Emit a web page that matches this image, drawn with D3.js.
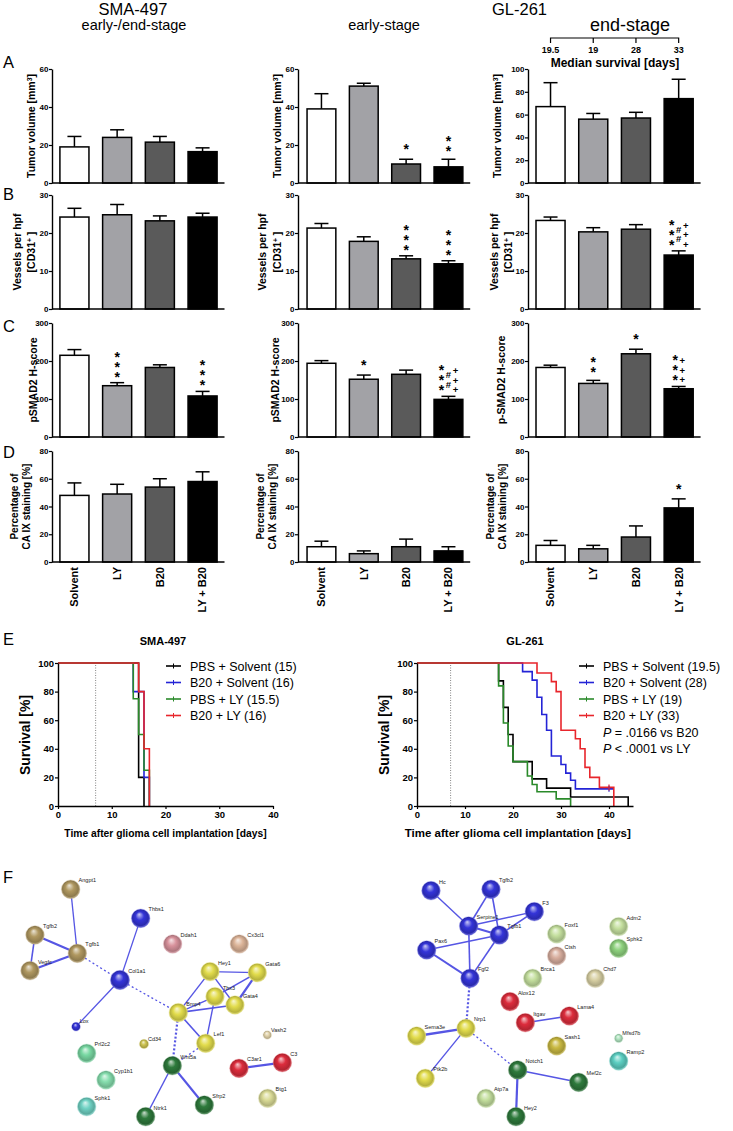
<!DOCTYPE html>
<html>
<head>
<meta charset="utf-8">
<script src="https://cdn.jsdelivr.net/npm/d3@7"></script>
<style>
body { margin: 0; background: #fff; }
svg text { font-family: "Liberation Sans", Arial, sans-serif; }
</style>
</head>
<body>
<svg id="fig" width="733" height="1131"></svg>
<script>
// ---- data ----
const groups = ["Solvent", "LY", "B20", "LY + B20"];
const barFills = ["#ffffff", "#a2a2a6", "#5a5a5a", "#000000"];
const medianSurvival = [19.5, 19, 28, 33];

// A: tumor volume
const smaTumor = [19, 24, 21.5, 16.5], smaTumorErr = [5.5, 4, 3, 2];
const earlyTumor = [39, 51, 10, 8.5], earlyTumorErr = [8, 1.5, 2.5, 4];
const endTumor = [67, 56, 57, 74], endTumorErr = [21, 5, 5, 17];
// B: vessels per hpf
const smaVessels = [24.2, 24.8, 23.2, 24.2], smaVesselsErr = [2.3, 2.7, 1.3, 1];
const earlyVessels = [21.3, 17.8, 13.2, 11.9], earlyVesselsErr = [1.2, 1.2, 0.8, 0.8];
const endVessels = [23.3, 20.3, 21, 14.2], endVesselsErr = [0.9, 1.1, 1.2, 1.1];
// C: pSMAD2 H-score
const smaSmad = [215, 135, 183, 108], smaSmadErr = [15, 8, 7, 12];
const earlySmad = [194, 152, 165, 99], earlySmadErr = [7, 11, 11, 8];
const endSmad = [183, 141, 219, 127], endSmadErr = [6, 8, 12, 6];
// D: CA IX staining
const smaCaix = [48, 49, 54, 58], smaCaixErr = [9, 7, 6, 7];
const earlyCaix = [11, 6, 11, 8], earlyCaixErr = [4, 2, 5.5, 3];
const endCaix = [12, 9.5, 18, 39], endCaixErr = [3.5, 2.5, 8, 6.5];

// significance marks: per bar, columns of stacked symbols
const earlyTumorSig = [[], [], ["*"], ["**"]];
const earlyVesselsSig = [[], [], ["***"], ["***"]];
const endVesselsSig = [[], [], [], ["***", "##", "+++"]];
const smaSmadSig = [[], ["***"], [], ["***"]];
const earlySmadSig = [[], ["*"], [], ["***", "##", "+++"]];
const endSmadSig = [[], ["**"], ["*"], ["***", "+++"]];
const endCaixSig = [[], [], [], ["*"]];
const noSig = [[], [], [], []];

// E: Kaplan-Meier (days, % survival)
const survNames = ["PBS + Solvent", "B20 + Solvent", "PBS + LY", "B20 + LY"];
const survColors = ["#000000", "#2424d6", "#2a8a2a", "#e8262c"];
const smaMedians = [" (15)", "(16)", "(15.5)", "(16)"];
const glMedians = ["(19.5)", "(28)", "(19)", "(33)"];
const smaDays = [[0, 15, 16], [0, 14, 16, 17], [0, 14, 15, 16, 17], [0, 15, 16, 17]];
const smaSurv = [[100, 20, 0], [100, 80, 20, 0], [100, 75, 50, 25, 0], [100, 80, 40, 0]];
const glDays = [
  [0, 17, 18, 19, 20, 24, 27, 32, 44],
  [0, 22, 24, 25, 26, 27, 28, 30, 31, 32, 33, 41],
  [0, 17, 18, 19, 20, 23, 24, 25, 29, 32],
  [0, 25, 28, 29, 30, 33, 34, 35, 36, 38, 41]
];
const glSurv = [
  [100, 87.5, 69, 50, 31, 19, 12.5, 6.25, 0],
  [100, 94, 88, 76, 64, 53, 35, 29, 23, 18, 12, 12],
  [100, 84, 58, 42, 31, 21, 15, 10, 5, 0],
  [100, 93, 87, 80, 53, 47, 40, 27, 20, 13, 0]
];
const glCensored = [[1, 40, 12], [3, 40, 13]];
const glPvalues = [" = .0166 vs B20", " < .0001 vs LY"];

// F: STRING networks (layout units of the network images)
const leftNodes = [
  ["Angpt1", 212, 118, 28, "tan"], ["Tgfb2", 105, 255, 28, "tan"], ["Tgfb1", 232, 310, 28, "tan"],
  ["Vegfc", 90, 362, 28, "tan"], ["Thbs1", 422, 205, 28, "blue"], ["Col1a1", 360, 390, 29, "blue"],
  ["Lox", 228, 530, 13, "blue"], ["Ddah1", 518, 282, 28, "pink"], ["Cx3cl1", 718, 282, 28, "peach"],
  ["Hey1", 630, 365, 28, "yellow"], ["Gata6", 772, 368, 28, "yellow"], ["Tbx3", 645, 440, 28, "yellow"],
  ["Gata4", 705, 465, 28, "yellow"], ["Bmp4", 535, 488, 28, "yellow"], ["Lef1", 617, 580, 28, "yellow"],
  ["Vash2", 802, 555, 13, "paletan"], ["Cd34", 432, 582, 14, "olive"], ["Prl2c2", 260, 610, 28, "mint"],
  ["Cyp1b1", 318, 690, 28, "mint2"], ["Sphk1", 260, 770, 28, "teal"], ["Wnt5a", 517, 647, 28, "dkgreen"],
  ["Sfrp2", 613, 765, 28, "dkgreen"], ["Ntrk1", 437, 800, 28, "dkgreen"], ["C3ar1", 717, 655, 28, "red"],
  ["C3", 847, 638, 28, "red"], ["Btg1", 803, 745, 28, "paleyg"]
];
const leftEdges = [
  ["Angpt1", "Tgfb1", 1.3], ["Tgfb2", "Tgfb1", 2.2], ["Tgfb2", "Vegfc", 1.6], ["Vegfc", "Tgfb1", 2.2],
  ["Tgfb1", "Col1a1", "d"], ["Thbs1", "Col1a1", 1.3], ["Col1a1", "Lox", 1.3], ["Col1a1", "Bmp4", "d"],
  ["Bmp4", "Hey1", 1.4], ["Bmp4", "Tbx3", 1.4], ["Bmp4", "Gata4", 1.6], ["Bmp4", "Lef1", 1.6],
  ["Bmp4", "Wnt5a", "D"], ["Hey1", "Gata6", 1.4], ["Hey1", "Gata4", 1.4], ["Tbx3", "Gata6", 1.4],
  ["Gata4", "Gata6", 2.2], ["Tbx3", "Lef1", 1.4], ["Lef1", "Wnt5a", "d"], ["Wnt5a", "Ntrk1", 1.3],
  ["Wnt5a", "Sfrp2", 2.2], ["C3ar1", "C3", 2.2]
];
const rightNodes = [
  ["Hc", 195, 122, 28, "blue"], ["Tgfb2", 375, 118, 28, "blue"], ["F3", 505, 185, 28, "blue"],
  ["Serpine1", 308, 228, 28, "blue"], ["Tgfb1", 400, 255, 28, "blue"], ["Pax6", 182, 300, 28, "blue"],
  ["Fgf2", 312, 385, 28, "blue"], ["Nrp1", 300, 535, 28, "yellow"], ["Sema3e", 152, 558, 28, "yellow"],
  ["Ptk2b", 178, 685, 28, "yellow"], ["Notch1", 455, 660, 28, "dkgreen"], ["Mef2c", 638, 697, 28, "dkgreen"],
  ["Hey2", 450, 800, 28, "dkgreen"], ["Atp7a", 360, 745, 28, "palegreen"], ["Foxf1", 572, 252, 28, "palegreen"],
  ["Ctsh", 572, 318, 28, "rose"], ["Brca1", 500, 385, 28, "palegreen"], ["Alox12", 432, 455, 28, "red"],
  ["Itgav", 478, 518, 28, "red"], ["Lama4", 610, 498, 28, "red"], ["Sash1", 572, 588, 28, "sash"],
  ["Adm2", 758, 230, 28, "palegreen"], ["Sphk2", 758, 295, 28, "green2"], ["Chd7", 688, 385, 28, "khaki"],
  ["Mfsd7b", 758, 565, 13, "palemint"], ["Ramp2", 758, 633, 28, "teal2"]
];
const rightEdges = [
  ["Hc", "Serpine1", 1.4], ["Tgfb2", "Serpine1", 1.6], ["Tgfb2", "Tgfb1", 1.6], ["Serpine1", "F3", 1.4],
  ["Tgfb1", "F3", 1.6], ["Serpine1", "Tgfb1", 2.0], ["Serpine1", "Fgf2", 1.6], ["Pax6", "Tgfb1", 1.4],
  ["Pax6", "Fgf2", 2.0], ["Tgfb1", "Fgf2", 1.6], ["Fgf2", "Nrp1", "D"], ["Nrp1", "Sema3e", 2.4],
  ["Nrp1", "Ptk2b", 1.4], ["Nrp1", "Notch1", "d"], ["Notch1", "Mef2c", 1.6], ["Notch1", "Hey2", 2.2],
  ["Itgav", "Lama4", 1.6]
];
const nodeColors = {
  tan: "#b09860", blue: "#3434d8", pink: "#d8929c", peach: "#dcb498", yellow: "#e2dc4c",
  paletan: "#e2d3aa", olive: "#cdc350", mint: "#78d8a2", mint2: "#86deae", teal: "#70d2c4",
  dkgreen: "#2e7a3c", red: "#dc2c3c", paleyg: "#dadb96", palegreen: "#c4df9e", green2: "#8ed27e",
  rose: "#d8ae9e", khaki: "#d8d0a4", sash: "#c9b942", palemint: "#b0e4c0", teal2: "#5ccfc2"
};

// ---- drawing ----
const svg = d3.select("#fig");
const NARROW = '"Liberation Sans Narrow", "Liberation Sans", Arial, sans-serif';

const colAxis = [52, 298, 528];
const colRange = [[53.5, 223.5], [300.7, 469.2], [529.6, 699.6]];
const rowRange = [[183, 69], [309, 195], [437, 323], [562, 451]];

function addText(g, x, y, txt, size, opts = {}) {
  return g.append("text").attr("x", x).attr("y", y).text(txt)
    .attr("font-size", size)
    .attr("font-weight", opts.bold ? "bold" : null)
    .attr("text-anchor", opts.anchor || "start")
    .attr("fill", opts.fill || "#000");
}

function yLabel(g, cx, cy, parts, fs) {
  const t = g.append("text")
    .attr("transform", `translate(${cx},${cy}) rotate(-90)`)
    .attr("text-anchor", "middle").attr("dy", "0.35em")
    .attr("font-weight", "bold").attr("font-size", fs);
  parts.forEach(p => {
    const s = t.append("tspan").text(p[0]);
    if (p[1]) s.attr("baseline-shift", "super").attr("font-size", fs * 0.65);
  });
}

function barPanel(ci, ri, ymax, step, vals, errs, sig, labels) {
  const g = svg.append("g");
  const x = d3.scaleBand().domain(groups).range(colRange[ci]).paddingInner(0.32).paddingOuter(0.15);
  const y = d3.scaleLinear().domain([0, ymax]).range(rowRange[ri]);
  const bw = x.bandwidth();

  groups.forEach((d, i) => {
    const cx = x(d) + bw / 2;
    g.append("line").attr("x1", cx).attr("x2", cx)
      .attr("y1", y(vals[i])).attr("y2", y(vals[i] + errs[i]))
      .attr("stroke", "#000").attr("stroke-width", 1.5);
    g.append("line").attr("x1", cx - 7).attr("x2", cx + 7)
      .attr("y1", y(vals[i] + errs[i])).attr("y2", y(vals[i] + errs[i]))
      .attr("stroke", "#000").attr("stroke-width", 1.5);
  });

  g.selectAll("rect.bar").data(groups).join("rect")
    .attr("class", "bar")
    .attr("x", d => x(d))
    .attr("y", (d, i) => y(vals[i]))
    .attr("width", bw)
    .attr("height", (d, i) => y(0) - y(vals[i]))
    .attr("fill", (d, i) => barFills[i])
    .attr("stroke", "#000").attr("stroke-width", 1.5);

  // significance symbols: one vertically set text per column
  groups.forEach((d, i) => {
    const cols = sig[i];
    if (!cols.length) return;
    const cx = x(d) + bw / 2;
    const base = y(vals[i] + errs[i]) - 6;
    const nrow = d3.max(cols, c => c.length);
    cols.forEach((s, k) => {
      const xx = cx + (k - (cols.length - 1) / 2) * 7;
      const shift = (nrow - s.length) / 2;
      const star = s[0] === "*";
      const fs = star ? 14 : 9.5;
      const c = star ? 0.86 : 0.95;
      const firstCenter = base - (s.length - 1 + shift) * 8;
      g.append("text")
        .attr("x", xx).attr("y", firstCenter - c * fs)
        .attr("writing-mode", "vertical-rl")
        .style("text-orientation", "upright")
        .style("letter-spacing", (8 - fs) + "px")
        .attr("font-size", fs)
        .attr("font-weight", "bold")
        .text(s);
    });
  });

  const ax = g.append("g").attr("transform", `translate(${colAxis[ci]},0)`)
    .call(d3.axisLeft(y).tickValues(d3.range(0, ymax + 0.1, step)).tickSize(3).tickSizeOuter(0));
  ax.select(".domain").attr("stroke-width", 1.4);
  ax.selectAll(".tick line").attr("stroke-width", 1.2);
  ax.selectAll(".tick text").attr("font-family", NARROW).attr("font-weight", "bold")
    .attr("font-size", 8).attr("x", -3.5);
  g.append("line").attr("x1", colAxis[ci]).attr("x2", colRange[ci][1] + 1)
    .attr("y1", y(0)).attr("y2", y(0)).attr("stroke", "#000").attr("stroke-width", 1.4);

  const cy = (rowRange[ri][0] + rowRange[ri][1]) / 2;
  labels.forEach(l => yLabel(g, colAxis[ci] + l.dx, cy, l.parts, l.fs || 10.5));

  if (ri === 3) {
    groups.forEach(d => {
      g.append("text")
        .attr("transform", `translate(${x(d) + bw / 2},${y(0) + 5}) rotate(-90)`)
        .attr("text-anchor", "end").attr("dy", "0.35em")
        .attr("font-weight", "bold").attr("font-size", 11).text(d);
    });
  }
  return x;
}

const tumorLbl = dx => [{ dx, parts: [["Tumor volume [mm"], ["3", true], ["]"]] }];
const vesselLbl = (a, b) => [{ dx: a, parts: [["Vessels per hpf"]] }, { dx: b, parts: [["[CD31"], ["+", true], [" ]"]] }];
const smadLbl = (dx, t) => [{ dx, parts: [[t]] }];
const caixLbl = [{ dx: -38, parts: [["Percentage of"]], fs: 10 }, { dx: -26, parts: [["CA IX staining [%]"]], fs: 10 }];

barPanel(0, 0, 60, 20, smaTumor, smaTumorErr, noSig, tumorLbl(-21));
barPanel(1, 0, 60, 20, earlyTumor, earlyTumorErr, earlyTumorSig, tumorLbl(-21));
const xEnd = barPanel(2, 0, 100, 20, endTumor, endTumorErr, noSig, tumorLbl(-31));
barPanel(0, 1, 30, 10, smaVessels, smaVesselsErr, noSig, vesselLbl(-35, -21));
barPanel(1, 1, 30, 10, earlyVessels, earlyVesselsErr, earlyVesselsSig, vesselLbl(-36, -21));
barPanel(2, 1, 30, 10, endVessels, endVesselsErr, endVesselsSig, vesselLbl(-34, -20));
barPanel(0, 2, 300, 100, smaSmad, smaSmadErr, smaSmadSig, smadLbl(-19, "pSMAD2 H-score"));
barPanel(1, 2, 300, 100, earlySmad, earlySmadErr, earlySmadSig, smadLbl(-23, "pSMAD2 H-score"));
barPanel(2, 2, 300, 100, endSmad, endSmadErr, endSmadSig, smadLbl(-27, "p-SMAD2 H-score"));
barPanel(0, 3, 80, 20, smaCaix, smaCaixErr, noSig, caixLbl);
barPanel(1, 3, 80, 20, earlyCaix, earlyCaixErr, noSig, caixLbl);
barPanel(2, 3, 80, 20, endCaix, endCaixErr, endCaixSig, caixLbl);

// headers
const hdr = svg.append("g");
addText(hdr, 133, 15, "SMA-497", 16.5, { anchor: "middle" });
addText(hdr, 134, 29.5, "early-/end-stage", 14.5, { anchor: "middle" });
addText(hdr, 384, 29.5, "early-stage", 14.5, { anchor: "middle" });
addText(hdr, 492, 15, "GL-261", 16.5);
addText(hdr, 630, 31, "end-stage", 18, { anchor: "middle" });
const bc = medianSurvival.map((m, i) => xEnd(groups[i]) + xEnd.bandwidth() / 2);
hdr.append("path")
  .attr("d", `M${bc[0]},43V38H${bc[3]}V43` + bc.slice(1, 3).map(c => `M${c},38V43`).join(""))
  .attr("fill", "none").attr("stroke", "#000").attr("stroke-width", 1.2);
medianSurvival.forEach((m, i) => addText(hdr, bc[i], 53, String(m), 9, { anchor: "middle", bold: true })
  .attr("font-family", NARROW));
addText(hdr, 615, 67, "Median survival [days]", 12, { anchor: "middle", bold: true });

// panel letters
[["A", 68], ["B", 200], ["C", 332], ["D", 458], ["E", 645], ["F", 883]].forEach(p =>
  addText(svg, 3, p[1], p[0], 16.5));

// ---- E: survival curves ----
function survivalPanel(x0, pxPerDay, xmax, days, surv, medians, title, titleX, legendX, lblFs, pvals, censored) {
  const g = svg.append("g");
  const x = d3.scaleLinear().domain([0, xmax]).range([x0, x0 + xmax * pxPerDay]);
  const y = d3.scaleLinear().domain([0, 100]).range([806, 663]);

  g.append("line").attr("x1", x(7)).attr("x2", x(7)).attr("y1", y(0)).attr("y2", y(100))
    .attr("stroke", "#666").attr("stroke-width", 0.8).attr("stroke-dasharray", "1,1.5");

  const line = d3.line().x(d => x(d[0])).y(d => y(d[1])).curve(d3.curveStepAfter);
  days.forEach((ds, k) => {
    g.append("path").datum(ds.map((d, j) => [d, surv[k][j]]))
      .attr("d", line).attr("fill", "none").attr("stroke", survColors[k]).attr("stroke-width", 1.6);
  });
  (censored || []).forEach(c => {
    g.append("line").attr("x1", x(c[1])).attr("x2", x(c[1]))
      .attr("y1", y(c[2]) - 3).attr("y2", y(c[2]) + 3)
      .attr("stroke", survColors[c[0]]).attr("stroke-width", 1.2);
  });

  const ay = g.append("g").attr("transform", `translate(${x0},0)`)
    .call(d3.axisLeft(y).tickValues([0, 20, 40, 60, 80, 100]).tickSize(3).tickSizeOuter(0));
  const ax = g.append("g").attr("transform", `translate(0,${y(0)})`)
    .call(d3.axisBottom(x).tickValues([0, 10, 20, 30, 40]).tickSize(3).tickSizeOuter(0));
  [ay, ax].forEach(a => {
    a.select(".domain").attr("stroke-width", 1.4);
    a.selectAll(".tick line").attr("stroke-width", 1.2);
    a.selectAll(".tick text").attr("font-weight", "bold").attr("font-size", 9.5)
      .attr("font-family", '"Liberation Sans", Arial, sans-serif');
  });
  ay.selectAll(".tick text").attr("x", -4);
  ax.selectAll(".tick text").attr("y", 5);

  addText(g, titleX, 645, title, 11, { anchor: "middle", bold: true });
  yLabel(g, x0 - 33, 735, [["Survival [%]"]], 14);
  addText(g, (x0 + x(Math.min(xmax, 42))) / 2, 837, "Time after glioma cell implantation [days]", lblFs, { anchor: "middle", bold: true });

  survNames.forEach((n, k) => {
    const ly = 666 + k * 16.5;
    g.append("line").attr("x1", legendX).attr("x2", legendX + 15).attr("y1", ly).attr("y2", ly)
      .attr("stroke", survColors[k]).attr("stroke-width", 1.6);
    g.append("line").attr("x1", legendX + 7.5).attr("x2", legendX + 7.5).attr("y1", ly - 2.5).attr("y2", ly + 2.5)
      .attr("stroke", survColors[k]).attr("stroke-width", 1);
    addText(g, legendX + 24, ly + 4.5, n + " " + medians[k], 12.5);
  });
  (pvals || []).forEach((e, k) => {
    const t = g.append("text").attr("x", legendX + 24).attr("y", 666 + (4 + k) * 16.5 + 4.5).attr("font-size", 12.5);
    t.append("tspan").attr("font-style", "italic").text("P");
    t.append("tspan").text(e);
  });
}

survivalPanel(58, 215 / 40, 40, smaDays, smaSurv, smaMedians, "SMA-497", 163, 166, 10.3);
survivalPanel(417, 4.8, 45, glDays, glSurv, glMedians, "GL-261", 525, 579, 11.5, glPvalues, glCensored);

// ---- F: networks ----
const defs = svg.append("defs");
Object.entries(nodeColors).forEach(([k, c]) => {
  const gr = defs.append("radialGradient").attr("id", "sph-" + k)
    .attr("cx", "50%").attr("cy", "50%").attr("r", "50%").attr("fx", "42%").attr("fy", "28%");
  gr.append("stop").attr("offset", "0%").attr("stop-color", d3.interpolateRgb(c, "#fff")(0.75));
  gr.append("stop").attr("offset", "45%").attr("stop-color", c);
  gr.append("stop").attr("offset", "85%").attr("stop-color", d3.color(c).darker(0.6));
  gr.append("stop").attr("offset", "100%").attr("stop-color", d3.interpolateRgb(c, "#fff")(0.35));
});

function network(nodes, edges, xr, w) {
  const g = svg.append("g");
  const x = d3.scaleLinear().domain([0, w]).range(xr);
  const y = d3.scaleLinear().domain([0, 843]).range([850, 1131]);
  const r = d3.scaleLinear().domain([0, w]).range([0, xr[1] - xr[0]]);
  const byName = new Map(nodes.map(n => [n[0], n]));
  edges.forEach(e => {
    const a = byName.get(e[0]), b = byName.get(e[1]);
    const dashed = typeof e[2] === "string";
    g.append("line").attr("x1", x(a[1])).attr("y1", y(a[2])).attr("x2", x(b[1])).attr("y2", y(b[2]))
      .attr("stroke", "#5656e4")
      .attr("stroke-width", dashed ? (e[2] === "D" ? 2.2 : 1.3) : e[2])
      .attr("stroke-dasharray", dashed ? (e[2] === "D" ? "2,2" : "2,2.5") : null);
  });
  g.selectAll("circle").data(nodes).join("circle")
    .attr("cx", d => x(d[1])).attr("cy", d => y(d[2])).attr("r", d => r(d[3]))
    .attr("fill", d => `url(#sph-${d[4]})`)
    .attr("stroke", d => d3.color(nodeColors[d[4]]).darker(0.4)).attr("stroke-opacity", 0.4).attr("stroke-width", 0.5);
  g.selectAll("text.lbl").data(nodes).join("text").attr("class", "lbl")
    .attr("x", d => x(d[1] + d[3] * 0.85)).attr("y", d => y(d[2] - d[3] * 0.75))
    .attr("font-size", 5.5).attr("fill", "#222").text(d => d[0]);
}
network(leftNodes, leftEdges, [0, 366], 1098);
network(rightNodes, rightEdges, [366, 733], 1101);
</script>
</body>
</html>
